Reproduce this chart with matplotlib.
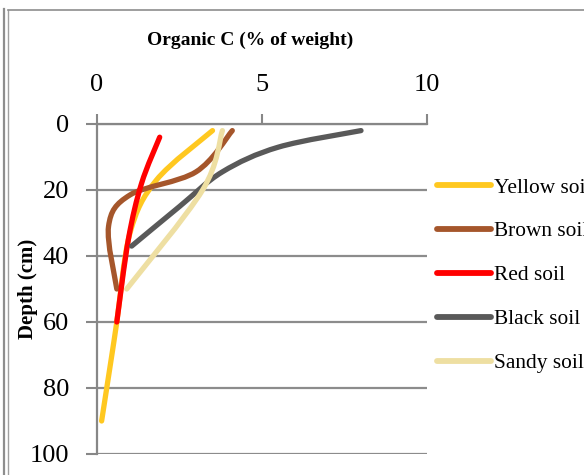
import matplotlib.pyplot as plt
import numpy as np
from matplotlib.path import Path
from matplotlib.patches import PathPatch
from matplotlib.lines import Line2D

plt.rcParams['font.family'] = ['Liberation Serif', 'DejaVu Serif']

# organic carbon (% of weight) against depth (cm) for each soil
yellow_c = [3.5, 1.8, 1.0, 0.6, 0.45, 0.14]
yellow_d = [2, 17, 33, 60, 70, 90]
brown_c = [4.1, 3.0, 1.0, 0.35, 0.6]
brown_d = [2, 14.5, 21.5, 31, 50]
red_c = [1.9, 1.35, 0.95, 0.6]
red_d = [4, 18, 35, 60]
black_c = [8.0, 5.5, 3.8, 2.5, 1.05]
black_d = [2, 7, 14.5, 25, 37]
sandy_c = [3.8, 3.2, 0.9]
sandy_d = [2, 20, 50]

names = ['Yellow soil', 'Brown soil', 'Red soil', 'Black soil', 'Sandy soil']
colors = ['#FFC820', '#A5562B', '#FF0000', '#595959', '#EEDFA2']
series = [(yellow_c, yellow_d), (brown_c, brown_d), (red_c, red_d),
          (black_c, black_d), (sandy_c, sandy_d)]


def smooth_path(xs, ys):
    # Catmull-Rom style bezier, like a spreadsheet "smoothed line"
    p = np.column_stack([xs, ys]).astype(float)
    n = len(p)
    verts = [p[0]]
    codes = [Path.MOVETO]
    for i in range(n - 1):
        p0 = p[i - 1] if i > 0 else p[i]
        p3 = p[i + 2] if i + 2 < n else p[i + 1]
        c1 = p[i] + (p[i + 1] - p0) / 6
        c2 = p[i + 1] - (p3 - p[i]) / 6
        verts += [c1, c2, p[i + 1]]
        codes += [Path.CURVE4] * 3
    return Path(verts, codes)


fig = plt.figure(figsize=(5.84, 4.75), dpi=100)
ax = fig.add_axes([97 / 584, 1 - 454 / 475, 330 / 584, 330 / 475])

for (c, d), col in zip(series, colors):
    ax.add_patch(PathPatch(smooth_path(c, d), facecolor='none', edgecolor=col,
                           lw=3.8, capstyle='round', joinstyle='round', zorder=3))

ax.set_xlim(0, 10)
ax.set_ylim(100, 0)
ax.set_xticks([0, 5, 10])
ax.set_yticks(range(0, 101, 20))
ax.xaxis.tick_top()
ax.tick_params(axis='x', direction='out', length=7, width=1.5, color='#878787',
               pad=13, labelsize=19)
ax.tick_params(axis='y', direction='out', length=8, width=1.5, color='#878787',
               pad=12, labelsize=19)
ax.grid(axis='y', color='#8C8C8C', lw=1.6)
ax.set_axisbelow(True)
for s in ['right', 'bottom']:
    ax.spines[s].set_visible(False)
for s in ['left', 'top']:
    ax.spines[s].set_color('#878787')
    ax.spines[s].set_linewidth(1.6)

handles = [Line2D([], [], color=col, lw=4.2, solid_capstyle='round') for col in colors]
fig.legend(handles, names, loc='upper left', bbox_to_anchor=(428 / 584, 1 - 169 / 475),
           frameon=False, fontsize=15.4, handlelength=2.55, handletextpad=0.13,
           labelspacing=1.12, borderaxespad=0)

fig.text(250 / 584, 1 - 40 / 475, 'Organic C (% of weight)', ha='center', va='center',
         fontsize=14, fontweight='bold')
fig.text(28 / 584, 1 - 289 / 475, 'Depth (cm)', ha='center', va='center',
         rotation=90, fontsize=15, fontweight='bold')

# chart area border
fig.add_artist(Line2D([3.5 / 584, 3.5 / 584], [0, 1 - 9 / 475], color='#8E8E8E', lw=1.6))
fig.add_artist(Line2D([7.5 / 584, 7.5 / 584], [0, 1 - 9.5 / 475], color='#A0A0A0', lw=1))
fig.add_artist(Line2D([7.5 / 584, 1], [1 - 9.5 / 475, 1 - 9.5 / 475], color='#8E8E8E', lw=1.2))

fig.savefig('out.png', dpi=100)
